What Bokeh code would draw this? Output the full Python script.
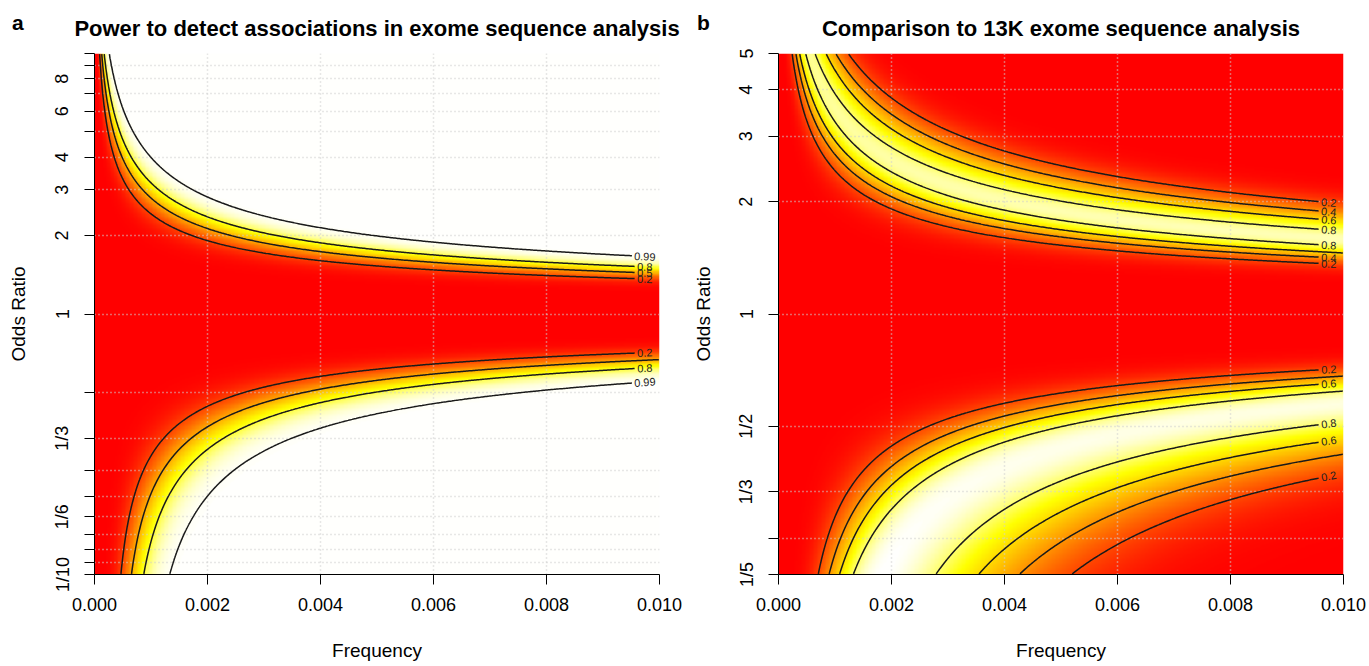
import math
import colorsys
import numpy as np
import contourpy
from bokeh.plotting import figure
from bokeh.layouts import GridBox
from bokeh.models import FixedTicker, CustomJSTickFormatter, LinearColorMapper, Div
from bokeh.embed import file_html
from bokeh.resources import INLINE
from bokeh.core.properties import value

# ---- study designs (estimated from the contour positions in the picture) ----
alpha = 5e-8
new_cases = 15000
new_controls = 34500
ref_cases = 5800        # the 13K exome sequence analysis
ref_controls = 7500

# ---- axes ----
freq_range = [0.0, 0.01]
or_range_a = [0.1, 10.0]
or_range_b = [0.2, 5.0]

x_ticks = [0.0, 0.002, 0.004, 0.006, 0.008, 0.010]
x_labels = ["0.000", "0.002", "0.004", "0.006", "0.008", "0.010"]

y_ticks_a = [1/10, 1/9, 1/8, 1/7, 1/6, 1/5, 1/4, 1/3, 1/2, 1, 2, 3, 4, 5, 6, 7, 8, 9, 10]
y_labels_a = ["1/10", "", "", "", "1/6", "", "", "1/3", "", "1", "2", "3", "4", "", "6", "", "8", "", ""]
y_ticks_b = [1/5, 1/4, 1/3, 1/2, 1, 2, 3, 4, 5]
y_labels_b = ["1/5", "", "1/3", "1/2", "1", "2", "3", "4", "5"]

# ---- contour levels and which contour pieces (ordered top to bottom at right edge) carry a label ----
levels_a = [0.2, 0.5, 0.8, 0.99]
labelled_a = {0.2: [0, 1], 0.5: [0], 0.8: [0, 1], 0.99: [0, 1]}
levels_b = [0.2, 0.4, 0.6, 0.8]
labelled_b = {0.2: [0, 1, 2, 3], 0.4: [0, 1], 0.6: [0, 2, 3], 0.8: [0, 1, 3]}

titles = ["Power to detect associations in exome sequence analysis",
          "Comparison to 13K exome sequence analysis"]
panel_letters = ["a", "b"]

FONT = "Liberation Sans"

_erfc = np.frompyfunc(math.erfc, 1, 1)


def phi(z):
    return 0.5 * _erfc(-np.asarray(z, dtype=float) / math.sqrt(2)).astype(float)


def z_upper(p):
    lo, hi = 0.0, 40.0
    for _ in range(200):
        mid = 0.5 * (lo + hi)
        if 0.5 * math.erfc(mid / math.sqrt(2)) > p:
            lo = mid
        else:
            hi = mid
    return 0.5 * (lo + hi)


Z_ALPHA = z_upper(alpha / 2)


def power(f, odds, n_cases, n_controls):
    p0 = f
    p1 = odds * f / (1 + f * (odds - 1))
    se = np.sqrt(p1 * (1 - p1) / (2 * n_cases) + p0 * (1 - p0) / (2 * n_controls))
    ncp = np.abs(p1 - p0) / se
    return phi(ncp - Z_ALPHA) + phi(-ncp - Z_ALPHA)


def heat_colors(n):
    j = n // 4
    i = n - j
    cols = []
    for k in range(i):
        h = (1 / 6) * k / (i - 1)
        cols.append(colorsys.hsv_to_rgb(h, 1, 1))
    s0, s1 = 1 - 1 / (2 * j), 1 / (2 * j)
    for k in range(j):
        s = s0 + (s1 - s0) * k / (j - 1)
        cols.append(colorsys.hsv_to_rgb(1 / 6, s, 1))
    return ["#%02x%02x%02x" % (round(r * 255), round(g * 255), round(b * 255)) for r, g, b in cols]


PALETTE = heat_colors(256)

NX, NY = 420, 420
FRAME_W, FRAME_H = 565, 521
BORDER_TOP, BORDER_BOTTOM = 53, 92

JS_X = """
let best = 0, bd = 1e9;
for (let i = 0; i < tk.length; i++) { const d = Math.abs(tick - tk[i]); if (d < bd) { bd = d; best = i; } }
return lb[best];"""
JS_Y = """
let best = 0, bd = 1e9;
for (let i = 0; i < tk.length; i++) { const d = Math.abs(Math.log(tick) - Math.log(tk[i])); if (d < bd) { bd = d; best = i; } }
return lb[best];"""


def build(idx, y_range, y_ticks, y_labels, levels, labelled, surface, borders, ylab_standoff):
    bl, br = borders
    p = figure(width=bl + FRAME_W + br, height=BORDER_TOP + FRAME_H + BORDER_BOTTOM,
               x_range=tuple(freq_range), y_range=tuple(y_range),
               y_axis_type="log", output_backend="svg", toolbar_location=None,
               min_border_left=bl, min_border_right=br, min_border_top=BORDER_TOP,
               min_border_bottom=BORDER_BOTTOM)
    p.background_fill_color = "white"
    p.border_fill_color = "white"
    p.outline_line_color = None

    f = freq_range[0] + (np.arange(NX) + 0.5) / NX * (freq_range[1] - freq_range[0])
    lo, hi = math.log(y_range[0]), math.log(y_range[1])
    ly = lo + (np.arange(NY) + 0.5) / NY * (hi - lo)
    F, L = np.meshgrid(f, ly)
    Z = surface(F, np.exp(L))

    mapper = LinearColorMapper(palette=PALETTE, low=float(Z.min()), high=float(Z.max()))
    p.image(image=[Z], x=freq_range[0], y=y_range[0], dw=freq_range[1] - freq_range[0],
            dh=y_range[1] - y_range[0], color_mapper=mapper, level="image")

    # contours
    px_x = FRAME_W / (freq_range[1] - freq_range[0])
    px_l = FRAME_H / (hi - lo)
    gen = contourpy.contour_generator(x=f, y=ly, z=Z)
    xs, ys = [], []
    tx, ty, tt, ta = [], [], [], []
    fs = 11.0
    lab_center = 0.00974
    for lev in levels:
        pieces = [seg for seg in gen.lines(lev) if len(seg) > 2]
        pieces.sort(key=lambda s: -s[np.argmax(s[:, 0]), 1])
        for k, seg in enumerate(pieces):
            sx, sl = seg[:, 0], seg[:, 1]
            if k in labelled.get(lev, []):
                txt = ("%.2f" % lev).rstrip("0")
                wpx = (len(txt) - 1) * 0.556 * fs + 0.278 * fs
                cut = lab_center - (wpx / 2 + 2.0) / px_x
                order = np.argsort(sx)
                xa = lab_center - 0.0003
                xb = min(lab_center + 0.0003, float(sx.max()))
                yc = float(np.interp(lab_center, sx[order], sl[order]))
                y1 = float(np.interp(xa, sx[order], sl[order]))
                y2 = float(np.interp(xb, sx[order], sl[order]))
                ang = math.atan2((y2 - y1) * px_l, (xb - xa) * px_x)
                m = sx <= cut
                sx, sl = sx[m], sl[m]
                tx.append(lab_center)
                ty.append(math.exp(yc))
                tt.append(txt)
                ta.append(ang)
            xs.append(list(sx))
            ys.append(list(np.exp(sl)))
    p.multi_line(xs=xs, ys=ys, line_color="#1a1a1a", line_width=1.5)
    p.text(x=tx, y=ty, text=tt, angle=ta, text_font=value(FONT), text_font_size="%.1fpx" % fs,
           text_align="center", text_baseline="middle", text_color="#222222")

    # axes
    p.xaxis.ticker = FixedTicker(ticks=x_ticks)
    p.xaxis.formatter = CustomJSTickFormatter(args=dict(tk=x_ticks, lb=x_labels), code=JS_X)
    p.yaxis.ticker = FixedTicker(ticks=y_ticks)
    p.yaxis.formatter = CustomJSTickFormatter(args=dict(tk=y_ticks, lb=y_labels), code=JS_Y)
    for ax in (p.xaxis[0], p.yaxis[0]):
        ax.axis_line_color = "black"
        ax.major_tick_line_color = "black"
        ax.major_tick_out = 10
        ax.major_tick_in = 0
        ax.minor_tick_line_color = None
        ax.major_label_text_font = FONT
        ax.major_label_text_font_size = "18px"
        ax.major_label_text_color = "black"
        ax.axis_label_text_font = FONT
        ax.axis_label_text_font_size = "19px"
        ax.axis_label_text_font_style = "normal"
        ax.axis_label_text_color = "black"
    p.xaxis.axis_label = "Frequency"
    p.yaxis.axis_label = "Odds Ratio"
    p.xaxis.major_label_standoff = 13
    p.xaxis.axis_label_standoff = 26
    p.yaxis.major_label_standoff = 12
    p.yaxis.axis_label_standoff = ylab_standoff
    p.yaxis.major_label_orientation = "vertical"

    # grid
    p.xgrid.ticker = FixedTicker(ticks=x_ticks)
    p.ygrid.ticker = FixedTicker(ticks=y_ticks)
    for g in (p.xgrid[0], p.ygrid[0]):
        g.grid_line_color = "#cfcfcf"
        g.grid_line_dash = "1 3"
        g.grid_line_width = 1.5

    # title
    p.title.text = titles[idx]
    p.title.align = "center"
    p.title.text_font = FONT
    p.title.text_font_size = "22px"
    p.title.text_font_style = "bold"
    p.title.text_color = "black"
    p.title.standoff = 26
    return p


def surface_a(F, OR):
    return power(F, OR, new_cases, new_controls)


def surface_b(F, OR):
    return power(F, OR, new_cases, new_controls) * (1 - power(F, OR, ref_cases, ref_controls))


pa = build(0, or_range_a, y_ticks_a, y_labels_a, levels_a, labelled_a, surface_a, (94, 25), 21)
pb = build(1, or_range_b, y_ticks_b, y_labels_b, levels_b, labelled_b, surface_b, (94, 26), 20)


def letter_div(letter, left):
    html = ('<span style="font-family:\'%s\';font-size:21px;font-weight:bold;'
            'color:black;line-height:normal">%s</span>' % (FONT, letter))
    return Div(text=html, width=24, height=30, margin=(11, 0, 0, left), align="start")


layout = GridBox(children=[(pa, 0, 0), (pb, 0, 1),
                           (letter_div(panel_letters[0], 12), 0, 0),
                           (letter_div(panel_letters[1], 13), 0, 1)])
open("out.html", "w").write(file_html(layout, INLINE))
